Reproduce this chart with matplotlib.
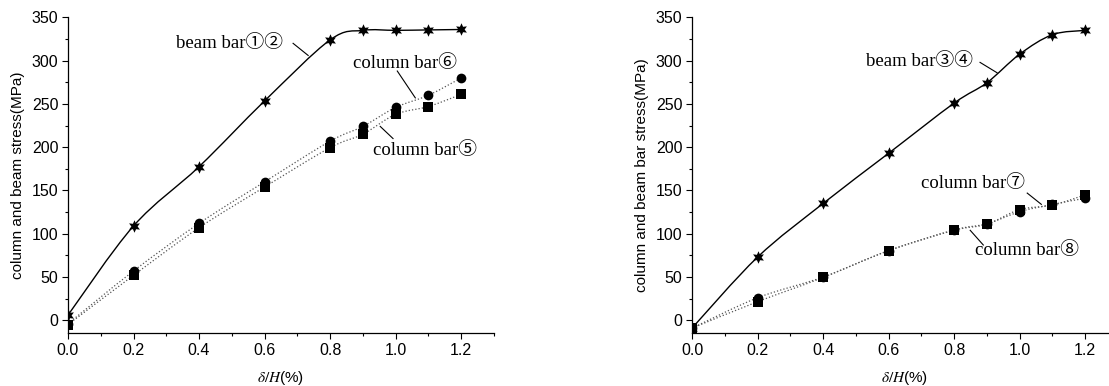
import numpy as np
import matplotlib
matplotlib.use("Agg")
import matplotlib.pyplot as plt
from matplotlib.path import Path
from matplotlib.patches import PathPatch

plt.rcParams['font.family'] = ['Liberation Sans', 'DejaVu Sans']
plt.rcParams['mathtext.fontset'] = 'stix'

# drift ratio (%)
drift = [0.0, 0.2, 0.4, 0.6, 0.8, 0.9, 1.0, 1.1, 1.2]

# left panel: stresses (MPa)
beam_12 = [6, 109, 177.5, 253.5, 324, 335, 335, 335.5, 336]
column_6 = [-4, 57, 112, 160, 207, 224, 246, 260, 280]
column_5 = [-5, 52, 107, 154, 199.5, 215, 238, 247, 261]

# right panel: stresses (MPa)
beam_34 = [-9, 73, 135, 193, 251, 274.5, 307.5, 330, 335]
column_7 = [-9, 21.5, 49.5, 80.5, 104, 111, 128, 133, 145]
column_8 = [-9, 26, 50, 80.5, 104.5, 111.5, 125.5, 134, 141]

x_ticks = [0.0, 0.2, 0.4, 0.6, 0.8, 1.0, 1.2]
y_ticks = [0, 50, 100, 150, 200, 250, 300, 350]

star6 = (6, 1, 0)
serif = ['Liberation Serif', 'Noto Sans CJK JP']


def smooth_path(x, y):
    # Catmull-Rom through the points, written as cubic Bezier segments
    pts = np.column_stack([x, y]).astype(float)
    verts = [pts[0]]
    codes = [Path.MOVETO]
    n = len(pts)
    for i in range(n - 1):
        p0 = pts[i - 1] if i > 0 else pts[i]
        p1 = pts[i]
        p2 = pts[i + 1]
        p3 = pts[i + 2] if i + 2 < n else pts[i + 1]
        c1 = p1 + (p2 - p0) / 6.0
        c2 = p2 - (p3 - p1) / 6.0
        verts += [c1, c2, p2]
        codes += [Path.CURVE4] * 3
    return Path(verts, codes)


def add_series(ax, x, y, marker, ms, ls, color, lw):
    ax.add_patch(PathPatch(smooth_path(x, y), fill=False, edgecolor=color,
                           linestyle=ls, linewidth=lw, zorder=2))
    ax.plot(x, y, linestyle='none', marker=marker, ms=ms, color='black',
            markeredgewidth=0, zorder=3)


def label(ax, txt, xy, line):
    ax.text(xy[0], xy[1], txt, fontsize=13.5, family=serif, va='center', ha='left')
    ax.plot(line[0], line[1], color='black', lw=0.8)


def style_axes(ax, ylabel):
    ax.set_xlim(0, 1.3)
    ax.set_ylim(-15, 350)
    ax.set_xticks(x_ticks)
    ax.set_xticks(np.arange(0.1, 1.31, 0.2), minor=True)
    ax.set_yticks(y_ticks)
    ax.set_yticks(np.arange(-25, 351, 50)[1:], minor=True)
    ax.set_xticklabels([f"{v:.1f}" for v in x_ticks])
    ax.tick_params(which='major', direction='out', length=4, width=0.8,
                   labelsize=11.5, pad=3)
    ax.tick_params(which='minor', direction='out', length=2.5, width=0.8)
    for s in ['top', 'right']:
        ax.spines[s].set_visible(False)
    for s in ['left', 'bottom']:
        ax.spines[s].set_linewidth(0.9)
    ax.set_ylabel(ylabel, fontsize=11, labelpad=5)
    ax.set_xlabel(r'$\delta/H$(%)', fontsize=11, labelpad=8)


fig = plt.figure(figsize=(11.09, 3.86), dpi=100)
ax1 = fig.add_axes([0.0613, 0.1365, 0.3841, 0.8185])
ax2 = fig.add_axes([0.624, 0.1365, 0.3841, 0.8185])
for ax in (ax1, ax2):
    ax.patch.set_visible(False)

add_series(ax1, drift, beam_12, star6, 9, '-', 'black', 1.0)
add_series(ax1, drift, column_6, 'o', 7, ':', '#555555', 0.9)
add_series(ax1, drift, column_5, 's', 6.5, ':', '#555555', 0.9)
label(ax1, 'beam bar①②', (0.33, 320), ([0.687, 0.733], [320, 306]))
label(ax1, 'column bar⑥', (0.87, 297), ([1.005, 1.06], [288, 257]))
label(ax1, 'column bar⑤', (0.93, 196), ([0.953, 0.992], [224, 210]))
style_axes(ax1, 'column and beam stress(MPa)')

add_series(ax2, drift, beam_34, star6, 9, '-', 'black', 1.0)
add_series(ax2, drift, column_7, 's', 6.5, ':', '#555555', 0.9)
add_series(ax2, drift, column_8, 'o', 7, ':', '#555555', 0.9)
label(ax2, 'beam bar③④', (0.531, 299.5), ([0.879, 0.931], [298, 286]))
label(ax2, 'column bar⑦', (0.70, 158.5), ([1.023, 1.066], [147, 134]))
label(ax2, 'column bar⑧', (0.864, 81), ([0.849, 0.889], [104, 87]))
style_axes(ax2, 'column and beam bar stress(MPa)')

fig.savefig('out.png', dpi=100)
